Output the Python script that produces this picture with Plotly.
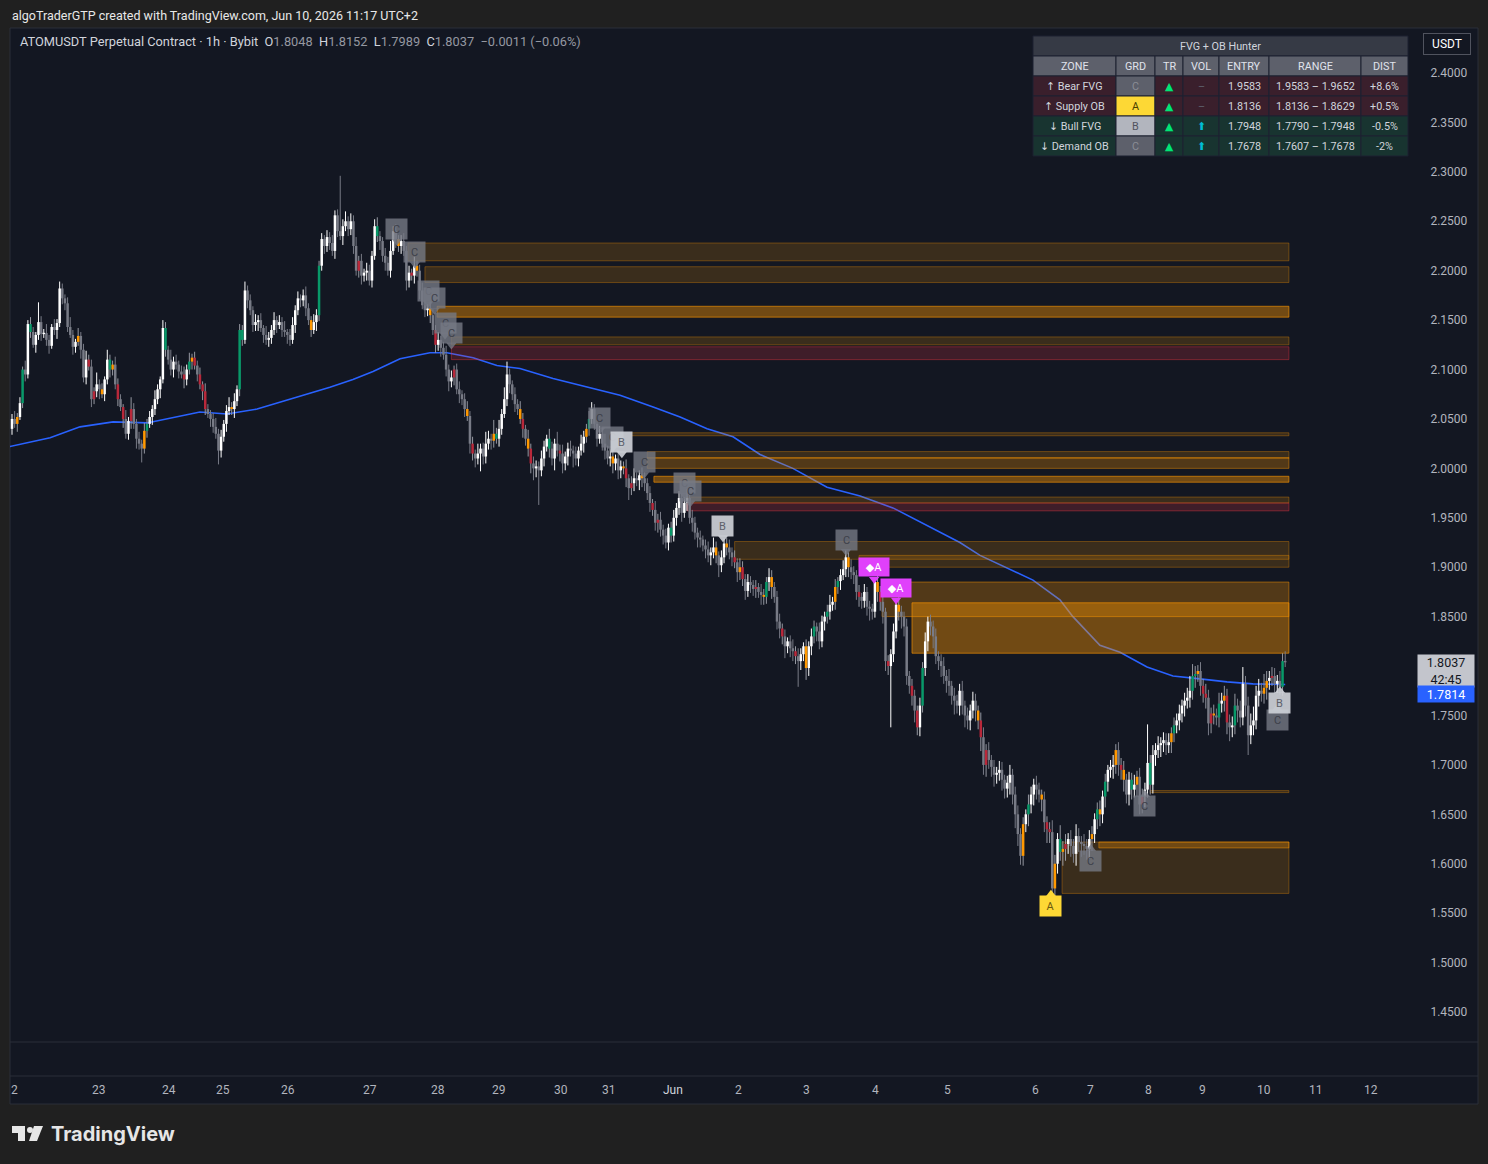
import plotly.graph_objects as go

# ---------------- data (prices in thousandths of USDT, 1h bars) ----------------
FIRST_OPEN = 2040
CLOSES = [
2050,2045,2052,2066,2100,2095,2146,2138,2125,2135,
2148,2136,2137,2130,2124,2143,2140,2147,2182,2172,
2167,2143,2135,2123,2128,2134,2120,2092,2110,2103,
2070,2078,2085,2080,2075,2090,2110,2100,2105,2085,
2070,2062,2050,2035,2048,2060,2045,2030,2025,2020,
2038,2045,2052,2060,2070,2080,2090,2142,2120,2110,
2100,2108,2105,2098,2095,2090,2100,2108,2112,2104,
2095,2085,2078,2060,2055,2050,2042,2035,2018,2032,
2045,2058,2062,2060,2068,2080,2140,2130,2180,2170,
2160,2145,2148,2150,2142,2135,2130,2132,2140,2150,
2145,2148,2140,2138,2135,2130,2145,2160,2172,2170,
2175,2162,2150,2140,2148,2155,2205,2232,2225,2234,
2228,2220,2256,2240,2235,2245,2250,2242,2250,2225,
2200,2210,2195,2198,2200,2190,2215,2245,2235,2230,
2215,2208,2200,2220,2240,2232,2225,2230,2220,2190,
2198,2195,2205,2200,2180,2165,2160,2162,2155,2140,
2125,2130,2122,2115,2100,2088,2092,2100,2080,2075,
2070,2060,2053,2025,2015,2010,2015,2020,2012,2025,
2030,2028,2035,2030,2040,2055,2070,2095,2085,2075,
2065,2060,2050,2040,2030,2020,2005,2000,2002,1998,
2010,2022,2030,2020,2010,2025,2018,2015,2005,2012,
2020,2018,2015,2010,2018,2025,2032,2040,2050,2060,
2045,2030,2035,2025,2018,2010,2012,2005,2010,1998,
2002,2000,1990,1980,1985,1990,1988,1993,1990,1985,
1975,1965,1958,1945,1948,1938,1932,1925,1940,1932,
1950,1960,1970,1955,1965,1970,1950,1945,1935,1930,
1928,1922,1918,1912,1915,1920,1912,1902,1910,1924,
1920,1915,1910,1905,1895,1900,1888,1876,1885,1882,
1878,1880,1875,1872,1870,1885,1890,1880,1870,1845,
1838,1830,1820,1825,1818,1815,1810,1805,1812,1820,
1798,1820,1830,1840,1835,1825,1845,1850,1855,1862,
1865,1880,1886,1892,1898,1910,1900,1895,1892,1875,
1870,1866,1875,1860,1858,1855,1885,1875,1865,1855,
1805,1800,1812,1835,1862,1855,1850,1840,1790,1780,
1770,1755,1738,1760,1798,1825,1845,1840,1830,1810,
1805,1800,1790,1785,1780,1770,1765,1760,1775,1760,
1750,1745,1755,1765,1755,1745,1728,1700,1715,1705,
1698,1690,1692,1695,1685,1676,1682,1690,1670,1650,
1630,1608,1640,1650,1660,1670,1680,1675,1670,1665,
1642,1635,1632,1575,1600,1625,1612,1615,1620,1625,
1618,1610,1628,1622,1620,1618,1615,1625,1630,1645,
1655,1650,1668,1683,1695,1698,1700,1715,1700,1695,
1685,1670,1685,1675,1680,1688,1660,1668,1675,1702,
1680,1710,1715,1720,1722,1725,1720,1723,1732,1740,
1745,1752,1760,1765,1768,1775,1790,1792,1795,1780,
1772,1768,1742,1752,1750,1748,1762,1765,1770,1743,
1738,1740,1760,1755,1748,1782,1760,1730,1740,1745,
1770,1775,1772,1778,1785,1788,1790,1782,1785,1779,
1805,1804]
UPPER_WICK = [
5,8,4,6,3,9,4,7,5,3, 20,6,4,9,5,3,8,4,7,5, 4,6,10,5,3,8,4,6,9,5, 7,4,12,5,6,3,10,5,4,8,
6,5,3,9,4,12,6,5,7,4, 8,5,6,4,9,5,3,8,6,4, 10,5,7,4,6,8,5,9,4,6, 5,7,3,8,5,4,6,9,5,7,
4,6,10,5,8,4,6,5,9,5, 6,4,8,5,7,3,9,6,5,8, 4,7,5,9,3,6,8,5,7,4, 6,9,5,4,8,6,5,6,4,7,
5,8,5,6,56,7,10,5,8,6, 9,5,7,4,8,6,5,7,9,5, 4,8,6,10,5,7,4,6,8,5, 7,4,9,5,6,8,5,4,7,6,
5,8,4,6,9,5,7,4,6,8, 4,6,8,5,7,4,10,5,6,12, 8,5,14,6,9,5,12,13,6,4, 7,5,8,6,4,9,5,7,6,5,
8,6,4,10,7,5,12,6,9,5, 6,8,5,7,4,9,6,5,8,7, 5,4,8,6,10,5,7,6,4,8, 6,5,9,4,7,10,6,5,8,6,
5,7,4,9,6,8,5,7,4,6, 8,5,7,4,6,9,5,8,6,5, 7,4,6,8,5,10,6,4,7,5, 6,8,5,7,4,9,6,5,8,6,
5,7,4,8,6,5,9,7,5,6, 8,5,7,4,6,9,5,8,6,4, 7,5,8,6,4,9,6,5,7,10, 5,8,4,6,9,7,5,8,6,5,
7,4,8,5,6,5,3,8,6,7, 4,6,5,8,4,10,6,5,8,5, 7,6,5,8,6,9,5,7,6,8, 5,7,9,6,12,5,8,6,7,10,
5,8,6,9,7,5,8,10,6,8, 5,7,6,9,8,5,7,10,6,8, 9,6,7,5,10,8,6,9,7,5, 8,6,7,12,9,6,14,8,10,6,
9,7,12,8,6,10,7,9,8,6, 7,9,6,8,5,7,10,6,8,7, 9,6,8,7,10,6,9,8,7,39, 8,10,7,9,6,8,7,9,6,8,
7,9,6,8,10,15,12,8,6,9, 7,10,8,6,9,7,11,8,10,7, 8,9,12,7,10,17,8,9,12,14, 10,12,8,14,10,7,9,8,6,10,
8,10]
LOWER_WICK = [
6,4,8,3,5,7,4,6,3,8, 5,7,4,6,8,3,5,9,4,6, 7,5,3,8,6,4,9,5,7,4, 8,5,6,10,4,7,5,8,6,5,
7,4,9,5,6,8,5,10,6,14, 5,7,4,8,6,5,9,4,7,5, 6,8,5,7,4,9,6,5,8,4, 7,5,9,6,4,8,6,5,14,7,
5,8,4,6,9,5,7,6,4,8, 5,7,6,9,4,8,5,7,6,5, 8,4,7,5,9,6,4,8,5,7, 6,8,5,7,4,9,6,5,8,6,
7,5,8,6,4,9,5,7,6,8, 5,7,9,6,8,5,7,4,6,9, 6,8,5,7,4,9,6,8,5,10, 7,5,8,6,9,4,7,6,8,5,
8,6,9,5,7,10,6,8,5,9, 6,8,5,10,7,9,6,18,8,7, 6,9,7,5,8,6,4,7,9,6, 8,6,5,9,7,8,10,12,9,35,
6,8,5,9,7,12,6,8,10,7, 9,6,14,7,8,5,9,6,7,5, 6,8,5,7,9,6,8,10,7,9, 8,6,9,12,7,8,6,10,9,8,
7,9,6,8,10,7,9,6,8,7, 6,8,7,9,5,8,6,9,7,10, 8,6,9,7,10,6,8,12,7,6, 8,7,9,6,10,8,7,9,6,8,
7,9,6,10,8,7,9,12,6,8, 10,8,12,7,9,10,8,26,9,7, 12,8,9,7,10,8,6,9,7,8, 6,8,7,9,5,8,10,7,9,8,
10,8,7,9,12,8,6,10,9,12, 10,9,62,8,7,9,12,10,9,8, 10,12,8,9,7,8,10,9,12,8, 9,11,8,12,10,9,14,8,10,9,
12,9,10,8,11,9,14,10,12,9, 10,12,9,8,11,10,9,12,10,14, 12,9,10,8,12,9,11,10,8,12, 10,14,11,17,12,10,9,14,12,10,
11,9,12,10,13,9,11,10,12,9, 10,12,9,11,10,8,12,9,11,10, 12,9,11,10,8,12,10,9,11,8, 10,9,11,8,12,9,10,8,11,9,
8,10,9,11,8,10,9,12,8,10, 9,11,12,10,9,8,10,9,11,12, 14,10,9,12,10,8,11,20,9,10, 9,11,8,10,12,9,8,10,9,8,
9,5]
GREEN_BARS = [4, 7, 37, 51, 58, 67, 86, 87, 116, 138, 183, 203, 218, 249, 285, 303, 308, 312, 344,
              384, 396, 410, 413, 423, 430, 439, 446, 447, 456, 462, 480]
RED_BARS = [29, 31, 40, 42, 45, 65, 69, 71, 72, 73, 131, 151, 160, 167, 174, 193, 196, 207, 232, 234,
            242, 244, 273, 276, 281, 291, 296, 320, 328, 331, 340, 342, 366, 368, 391, 392, 398, 419,
            427, 450, 451, 453, 459, 476]
ORANGE_BARS = [2, 25, 34, 38, 50, 68, 83, 113, 146, 153, 158, 172, 182, 192, 195, 217, 227, 231, 238,
               266, 270, 275, 284, 287, 300, 311, 316, 327, 335, 365, 382, 389, 394, 397, 408, 411,
               417, 420, 425, 438, 448, 454, 458, 473, 474]

EMA_IDX = [-1, 14.4, 25.7, 38.2, 51, 62.3, 71, 81.2, 92.6, 106.2, 120.1, 128.8, 136.4, 146.6, 157.9,
           164.3, 174.2, 183.2, 191.9, 204.4, 217.2, 229.7, 242.2, 252.4, 262.6, 272.4, 282.6, 295,
           307.9, 320.4, 332.8, 345.7, 358.1, 365.7, 385.7, 395.9, 400.8, 411, 418.6, 428.8, 438.6,
           448.8, 459, 468.8, 481]
EMA_VAL = [2022, 2031, 2042, 2047, 2046, 2052, 2057, 2055, 2060, 2071, 2082, 2090, 2098, 2111, 2117,
           2117, 2112, 2104, 2101, 2091, 2082, 2074, 2062, 2052, 2040, 2032, 2014, 2000, 1981, 1972,
           1960, 1942, 1925, 1912, 1887, 1867, 1850, 1821, 1814, 1799, 1790, 1787, 1784, 1782, 1781.4]
EMA_LAST = "1.7814"

ZONE_START = [149.6, 156.0, 160.6, 166.0, 166.0, 234.0, 240.0, 240.0, 242.5, 255.0, 255.0, 273.0,
              320.0, 328.7, 340.0, 430.0, 396.7, 410.6]
ZONE_TOP = [2228, 2204, 2164, 2133, 2123, 2036, 2017, 2011, 1992, 1971, 1965, 1926, 1912, 1885, 1864,
            1674, 1622, 1622]
ZONE_BOT = [2210, 2188, 2153, 2125, 2110, 2033, 2010, 2000, 1986, 1965, 1957, 1908, 1900, 1850, 1813,
            1672, 1570, 1616]
ZONE_STYLE = ['dark', 'dark', 'bright', 'dark', 'red', 'dark', 'dark', 'mid', 'bright', 'dark', 'red',
              'dark', 'dark', 'mid', 'bright', 'dark', 'dark', 'mid']
ZONE_END = 482.4

BADGE_IDX = [145.4, 152.2, 157.2, 159.6, 163.6, 166.0, 222.1, 226.7, 230.4, 238.8, 254.2, 256.2,
             268.6, 315.1, 325.7, 334.0, 392.5, 407.6, 428.0, 477.9, 479.0]
BADGE_PRICE = [2242, 2219, 2179, 2172, 2147, 2137, 2051, 2032, 2027, 2006, 1985, 1977, 1942, 1928,
               1900, 1879, 1557, 1603, 1658, 1745, 1763]
BADGE_TEXT = ['C', 'C', 'C', 'C', 'C', 'C', 'C', 'C', 'B', 'C', 'C', 'C', 'B', 'C', '◆A', '◆A', 'A',
              'C', 'C', 'C', 'B']
BADGE_SIDE = ['above'] * 16 + ['below'] * 5

TIME_IDX = [1.1, 32.9, 59.3, 79.7, 104.3, 135.2, 160.9, 184.0, 207.4, 225.5, 249.7, 274.3, 300.0,
            326.4, 353.6, 386.5, 407.6, 429.2, 449.6, 473.0, 492.6, 513.4]
TIME_TEXT = ['2', '23', '24', '25', '26', '27', '28', '29', '30', '31', 'Jun', '2', '3', '4', '5',
             '6', '7', '8', '9', '10', '11', '12']
# 1.8000 is hidden behind the last-price box in the reference, so it is not listed
PRICE_TICKS = [2.40, 2.35, 2.30, 2.25, 2.20, 2.15, 2.10, 2.05, 2.00, 1.95, 1.90, 1.85, 1.75,
               1.70, 1.65, 1.60, 1.55, 1.50, 1.45]

HEADER_OHLC = ['1.8048', '1.8152', '1.7989', '1.8037', '−0.0011 (−0.06%)']
LAST_PRICE = '1.8037'
COUNTDOWN = '42:45'

TBL_COLS = ['ZONE', 'GRD', 'TR', 'VOL', 'ENTRY', 'RANGE', 'DIST']
TBL_ZONE = ['↑ Bear FVG', '↑ Supply OB', '↓ Bull FVG', '↓ Demand OB']
TBL_GRADE = ['C', 'A', 'B', 'C']
TBL_TREND = ['▲', '▲', '▲', '▲']
TBL_VOL = ['–', '–', '⬆', '⬆']
TBL_ENTRY = ['1.9583', '1.8136', '1.7948', '1.7678']
TBL_RANGE = ['1.9583 – 1.9652', '1.8136 – 1.8629', '1.7790 – 1.7948', '1.7607 – 1.7678']
TBL_DIST = ['+8.6%', '+0.5%', '-0.5%', '-2%']
TBL_SIDE = ['bear', 'bear', 'bull', 'bull']

# ---------------- layout geometry (pixels) ----------------
W, H = 1488, 1164
PL, PR, PT, PB = 10, 1418, 28, 1042
BAR0_PX, BAR_PX = 12.0, 2.647
PX_PER_PRICE = 1 / 1.0117e-3   # pixels per 1.0 USDT
Y_TOP = 2.4 + (73 - PT) / PX_PER_PRICE
Y_BOT = 2.4 - (PB - 73) / PX_PER_PRICE


def pxx(x):
    return (x - PL) / (PR - PL)


def pyy(y):
    return (PB - y) / (PB - PT)


FONT = "Roboto, 'DejaVu Sans', sans-serif"
BG = '#131722'

fig = go.Figure()

# EMA line
fig.add_trace(go.Scatter(x=EMA_IDX, y=[v / 1000 for v in EMA_VAL], mode='lines',
                         line=dict(color='#2962ff', width=1.6), hoverinfo='skip', showlegend=False))

# zones
ZSTYLE = {
    'dark': ('rgba(255,152,0,0.17)', 'rgba(255,152,0,0.32)'),
    'mid': ('rgba(255,152,0,0.27)', 'rgba(255,152,0,0.45)'),
    'bright': ('rgba(255,152,0,0.40)', 'rgba(255,152,0,0.60)'),
    'red': ('rgba(242,54,69,0.20)', 'rgba(242,54,69,0.38)'),
}
for x0, t, b, s in zip(ZONE_START, ZONE_TOP, ZONE_BOT, ZONE_STYLE):
    fc, lc = ZSTYLE[s]
    fig.add_trace(go.Scatter(x=[x0, ZONE_END, ZONE_END, x0, x0],
                             y=[b / 1000, b / 1000, t / 1000, t / 1000, b / 1000],
                             mode='lines', fill='toself', fillcolor=fc,
                             line=dict(color=lc, width=1), hoverinfo='skip', showlegend=False))

# candles
COLORS = {'white': '#ffffff', 'gray': '#787b86', 'orange': '#ff9800', 'red': '#b8283a', 'green': '#089969'}
WICK = {'white': '#ffffff', 'gray': '#787b86', 'orange': '#9598a1', 'red': '#9598a1', 'green': '#9598a1'}
body = {k: ([], []) for k in COLORS}
wick = {k: ([], []) for k in COLORS}
prev = FIRST_OPEN
gs, rs, os_ = set(GREEN_BARS), set(RED_BARS), set(ORANGE_BARS)
for i, (c, uw, lw) in enumerate(zip(CLOSES, UPPER_WICK, LOWER_WICK)):
    o = prev
    prev = c
    if i in gs:
        k = 'green'
    elif i in rs:
        k = 'red'
    elif i in os_:
        k = 'orange'
    else:
        k = 'white' if c >= o else 'gray'
    lo, hi = min(o, c) / 1000, max(o, c) / 1000
    wick[k][0].extend([i, i, None])
    wick[k][1].extend([lo - lw / 1000, hi + uw / 1000, None])
    if hi - lo < 0.0014:
        m = (hi + lo) / 2
        lo, hi = m - 0.0007, m + 0.0007
    body[k][0].extend([i, i, None])
    body[k][1].extend([lo, hi, None])

for k in ['gray', 'white', 'orange', 'red', 'green']:
    fig.add_trace(go.Scatter(x=wick[k][0], y=wick[k][1], mode='lines',
                             line=dict(color=WICK[k], width=1), hoverinfo='skip', showlegend=False))
for k in ['gray', 'white', 'orange', 'red', 'green']:
    fig.add_trace(go.Scatter(x=body[k][0], y=body[k][1], mode='lines',
                             line=dict(color=COLORS[k], width=2.5), hoverinfo='skip', showlegend=False))

# badges
BSTYLE = {
    'C': ('rgba(118,121,132,0.80)', '#3d404a', 21, 20),
    'B': ('rgba(205,208,215,0.92)', '#5d606b', 21, 20),
    'A': ('#fdd835', '#6b5a10', 21, 20),
    '◆A': ('#e040fb', '#ffffff', 30, 18),
}
annotations = []
tri_x = {'above': [], 'below': []}
tri_y = {'above': [], 'below': []}
tri_c = {'above': [], 'below': []}
off = 12 / PX_PER_PRICE
for bi, bp, bt, bs in zip(BADGE_IDX, BADGE_PRICE, BADGE_TEXT, BADGE_SIDE):
    bg, fc, w, h = BSTYLE[bt]
    p = bp / 1000
    tri_x[bs].append(bi)
    tri_y[bs].append(p - off if bs == 'above' else p + off)
    tri_c[bs].append(bg)
    annotations.append(dict(x=bi, y=p, xref='x', yref='y', text=bt, showarrow=False,
                            xanchor='center', yanchor='middle',
                            font=dict(family=FONT, size=11, color=fc), bgcolor=bg,
                            width=w, height=h, align='center', valign='middle', borderpad=0))
for side, sym in (('above', 'triangle-down'), ('below', 'triangle-up')):
    fig.add_trace(go.Scatter(x=tri_x[side], y=tri_y[side], mode='markers',
                             marker=dict(symbol=sym, size=9, color=tri_c[side], line=dict(width=0)),
                             hoverinfo='skip', showlegend=False))

# time labels
for ti, tt in zip(TIME_IDX, TIME_TEXT):
    annotations.append(dict(x=ti, y=pyy(1090), xref='x', yref='paper', text=tt, showarrow=False,
                            font=dict(family=FONT, size=12, color='#d1d4dc' if tt == 'Jun' else '#b2b5be'),
                            xanchor='center', yanchor='middle'))

# header texts
annotations.append(dict(x=pxx(10), y=pyy(15), xref='paper', yref='paper', xanchor='left', yanchor='middle',
                        showarrow=False, text='algoTraderGTP created with TradingView.com, Jun 10, 2026 11:17 UTC+2',
                        font=dict(family=FONT, size=12.5, color='#e8e8e8')))
g = '<span style="color:#9598a1">%s</span>'
sp = '\u00a0\u00a0'
hdr = ('ATOMUSDT Perpetual Contract · 1h · Bybit' + sp + 'O' + g % HEADER_OHLC[0] + sp + 'H' + g % HEADER_OHLC[1]
       + sp + 'L' + g % HEADER_OHLC[2] + sp + 'C' + g % HEADER_OHLC[3] + sp + g % HEADER_OHLC[4])
annotations.append(dict(x=pxx(18), y=pyy(42), xref='paper', yref='paper', xanchor='left', yanchor='middle',
                        showarrow=False, text=hdr, font=dict(family=FONT, size=12.8, color='#d1d4dc')))

# right axis boxes
annotations.append(dict(x=pxx(1447), y=pyy(44), xref='paper', yref='paper', showarrow=False, text='USDT',
                        xanchor='center', yanchor='middle',
                        font=dict(family=FONT, size=12, color='#ffffff'), bgcolor=BG, bordercolor='#50535e',
                        borderwidth=1, width=44, height=18))
annotations.append(dict(x=pxx(1446), y=pyy(671), xref='paper', yref='paper', showarrow=False,
                        xanchor='center', yanchor='middle',
                        text='%s<br>%s' % (LAST_PRICE, COUNTDOWN),
                        font=dict(family=FONT, size=12.5, color='#131722'), bgcolor='#c3c5cc',
                        width=54, height=30, align='center'))
annotations.append(dict(x=pxx(1446), y=pyy(694), xref='paper', yref='paper', showarrow=False, text=EMA_LAST,
                        xanchor='center', yanchor='middle',
                        font=dict(family=FONT, size=12.5, color='#ffffff'), bgcolor='#2962ff',
                        width=54, height=14, align='center'))

# logo text
annotations.append(dict(x=pxx(49), y=pyy(1134), xref='paper', yref='paper', xanchor='left', yanchor='middle',
                        showarrow=False, text='<b>TradingView</b>',
                        font=dict(family="Inter, Roboto, sans-serif", size=20, color='#e6e6e6')))

shapes = []
# chart frame background
shapes.append(dict(type='rect', xref='paper', yref='paper', x0=pxx(10), x1=pxx(1478), y0=pyy(1104), y1=pyy(28),
                   fillcolor=BG, line=dict(color='#2a2e39', width=1), layer='below'))
for yy in (1042, 1076):
    shapes.append(dict(type='line', xref='paper', yref='paper', x0=pxx(10), x1=pxx(1478), y0=pyy(yy), y1=pyy(yy),
                       line=dict(color='#2a2e39', width=1), layer='below'))
# logo glyph
shapes.append(dict(type='rect', xref='paper', yref='paper', x0=pxx(12), x1=pxx(25), y0=pyy(1133), y1=pyy(1126),
                   fillcolor='#e6e6e6', line=dict(width=0)))
shapes.append(dict(type='rect', xref='paper', yref='paper', x0=pxx(18), x1=pxx(25), y0=pyy(1141), y1=pyy(1126),
                   fillcolor='#e6e6e6', line=dict(width=0)))
shapes.append(dict(type='circle', xref='paper', yref='paper', x0=pxx(27), x1=pxx(33), y0=pyy(1133), y1=pyy(1127),
                   fillcolor='#e6e6e6', line=dict(width=0)))
shapes.append(dict(type='path', xref='paper', yref='paper',
                   path='M %f %f L %f %f L %f %f L %f %f Z' % (pxx(34), pyy(1126), pxx(43), pyy(1126),
                                                               pxx(37), pyy(1141), pxx(29), pyy(1141)),
                   fillcolor='#e6e6e6', line=dict(width=0)))

# ---------------- table ----------------
CX = [1033, 1116, 1155, 1183, 1219, 1269, 1361, 1408]
TY0 = 36
RH = 20


def cell(x0, x1, y0, y1, fill, text, color, size=10.8):
    shapes.append(dict(type='rect', xref='paper', yref='paper', x0=pxx(x0), x1=pxx(x1), y0=pyy(y1), y1=pyy(y0),
                       fillcolor=fill, line=dict(color='#1c2030', width=1)))
    annotations.append(dict(x=pxx((x0 + x1) / 2), y=pyy((y0 + y1) / 2 + 0.5), xref='paper', yref='paper',
                            showarrow=False, text=text, font=dict(family=FONT, size=size, color=color),
                            xanchor='center', yanchor='middle'))


cell(CX[0], CX[-1], TY0, TY0 + RH, '#363a45', 'FVG + OB Hunter', '#d1d4dc')
for j, name in enumerate(TBL_COLS):
    cell(CX[j], CX[j + 1], TY0 + RH, TY0 + 2 * RH, '#5d606b', name, '#e0e3eb')
GRADE_CELL = {'A': ('#fdd835', '#4a4000'), 'B': ('#b2b5be', '#50535e'), 'C': ('#5d606b', '#8a8d96')}
for r in range(len(TBL_ZONE)):
    y0 = TY0 + (r + 2) * RH
    y1 = y0 + RH
    rbg = '#3a1f2c' if TBL_SIDE[r] == 'bear' else '#183430'
    gfill, gcol = GRADE_CELL[TBL_GRADE[r]]
    vcol = '#00bcd4' if TBL_VOL[r] != '–' else '#5d606b'
    vals = [(TBL_ZONE[r], rbg, '#d1d4dc'), (TBL_GRADE[r], gfill, gcol), (TBL_TREND[r], rbg, '#00e676'),
            (TBL_VOL[r], rbg, vcol), (TBL_ENTRY[r], rbg, '#d1d4dc'), (TBL_RANGE[r], rbg, '#d1d4dc'),
            (TBL_DIST[r], rbg, '#d1d4dc')]
    for j, (txt, fill, col) in enumerate(vals):
        cell(CX[j], CX[j + 1], y0, y1, fill, txt, col)

fig.update_layout(
    width=W, height=H,
    margin=dict(l=PL, r=W - PR, t=PT, b=H - PB),
    paper_bgcolor='#202020', plot_bgcolor=BG,
    showlegend=False,
    xaxis=dict(range=[(PL - BAR0_PX) / BAR_PX, (PR - BAR0_PX) / BAR_PX], showgrid=False, zeroline=False,
               showticklabels=False, showline=False, fixedrange=True),
    yaxis=dict(range=[Y_BOT, Y_TOP], side='right', showgrid=False, zeroline=False, showline=False,
               tickvals=PRICE_TICKS, ticktext=['%.4f' % v for v in PRICE_TICKS],
               ticks='outside', ticklen=9, tickcolor=BG,
               tickfont=dict(family=FONT, size=12, color='#b2b5be'), fixedrange=True),
    shapes=shapes, annotations=annotations,
    font=dict(family=FONT),
)

fig.write_html("out.html")
